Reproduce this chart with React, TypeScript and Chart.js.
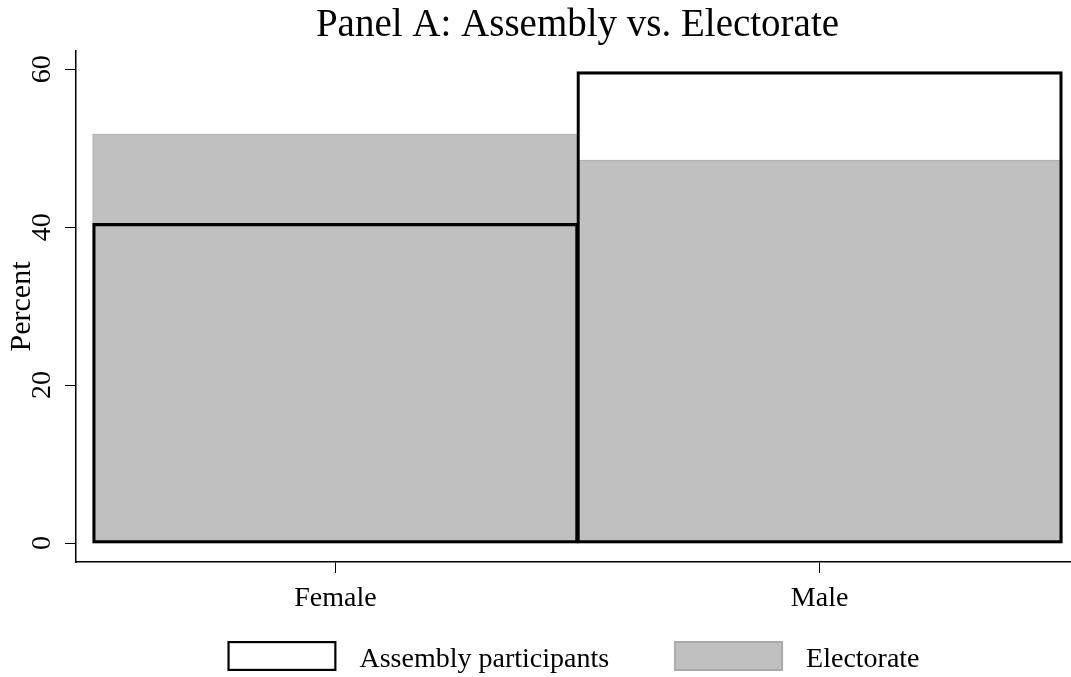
import React, { useEffect, useRef } from "react";
import { Chart, registerables } from "chart.js";

Chart.register(...registerables);

const categories = ["Female", "Male"];
const assemblyValues = [40.4, 59.6];
const electorateValues = [51.7, 48.4];
const seriesLabels = ["Assembly participants", "Electorate"];
const yTickValues = [0, 20, 40, 60];
const titleText = "Panel A: Assembly vs. Electorate";
const yAxisTitle = "Percent";

const FONT = "'Liberation Serif', 'Times New Roman', serif";

const titlePlugin = {
  id: "stataTitle",
  afterDraw(chart: any) {
    const ctx = chart.ctx;
    const xScale = chart.scales.x;
    const cx = xScale.getPixelForValue((categories.length - 1) / 2);
    ctx.save();
    ctx.font = `39px ${FONT}`;
    ctx.fillStyle = "#000";
    ctx.textAlign = "center";
    ctx.textBaseline = "alphabetic";
    ctx.fillText(titleText, cx, 36);
    ctx.restore();
  },
};

const legendPlugin = {
  id: "stataLegend",
  afterDraw(chart: any) {
    const ctx = chart.ctx;
    const area = chart.chartArea;
    ctx.save();
    ctx.font = `28px ${FONT}`;
    const boxW = 109;
    const boxH = 30;
    const gap = 23;
    const itemGap = 65;
    const items = chart.data.datasets.map((ds: any) => ({
      label: ds.label,
      fill: ds.backgroundColor,
      stroke: ds.borderColor,
      lw: ds.borderWidth + ds.inflateAmount,
    }));
    const widths = items.map((it: any) => boxW + gap + ctx.measureText(it.label).width);
    const total = widths.reduce((a: number, b: number) => a + b, 0) + itemGap * (items.length - 1);
    let x = (area.left + area.right) / 2 - total / 2;
    const yTop = chart.height - 36;
    items.forEach((it: any, i: number) => {
      ctx.fillStyle = it.fill;
      ctx.fillRect(x, yTop, boxW, boxH);
      ctx.strokeStyle = it.stroke;
      ctx.lineWidth = it.lw;
      ctx.strokeRect(x + it.lw / 2, yTop + it.lw / 2, boxW - it.lw, boxH - it.lw);
      ctx.fillStyle = "#000";
      ctx.textBaseline = "alphabetic";
      ctx.textAlign = "left";
      ctx.fillText(it.label, x + boxW + gap, yTop + 26);
      x += widths[i] + itemGap;
    });
    ctx.restore();
  },
};

export default function App() {
  const canvasRef = useRef<HTMLCanvasElement | null>(null);

  useEffect(() => {
    if (!canvasRef.current) return;
    Chart.defaults.font.family = FONT;
    Chart.defaults.color = "#000";
    const chart = new Chart(canvasRef.current, {
      type: "bar",
      data: {
        datasets: [
          {
            label: seriesLabels[0],
            data: assemblyValues.map((v, i) => ({ x: i, y: v })),
            backgroundColor: "rgba(0,0,0,0)",
            borderColor: "#000000",
            borderWidth: 1.2,
            borderSkipped: false,
            inflateAmount: 1,
            grouped: false,
            barPercentage: 1,
            categoryPercentage: 1,
          },
          {
            label: seriesLabels[1],
            data: electorateValues.map((v, i) => ({ x: i, y: v })),
            backgroundColor: "#c0c0c0",
            borderColor: "#ababab",
            borderWidth: 1,
            borderSkipped: false,
            inflateAmount: 1,
            grouped: false,
            barPercentage: 1,
            categoryPercentage: 1,
          },
        ],
      },
      options: {
        animation: false,
        responsive: true,
        maintainAspectRatio: false,
        layout: { padding: { top: 51, left: 0, right: 0, bottom: 57 } },
        plugins: {
          legend: { display: false },
          tooltip: { enabled: false },
          title: { display: false },
        },
        scales: {
          x: {
            type: "linear",
            min: -0.5357,
            max: 1.5192,
            offset: false,
            afterBuildTicks: (scale: any) => {
              scale.ticks = categories.map((_, i) => ({ value: i }));
            },
            afterFit: (scale: any) => {
              scale.height = 58;
            },
            ticks: {
              font: { family: FONT, size: 28 },
              color: "#000",
              padding: 9,
              maxRotation: 0,
              minRotation: 0,
              callback: (v: any) => categories[v as number] ?? "",
            },
            grid: {
              display: true,
              offset: false,
              drawOnChartArea: false,
              drawTicks: true,
              tickLength: 11,
              color: "#000",
              lineWidth: 1,
            },
            border: { display: true, color: "#000", width: 1.5 },
          },
          y: {
            type: "linear",
            min: -2.4,
            max: 62.3,
            afterBuildTicks: (scale: any) => {
              scale.ticks = yTickValues.map((v) => ({ value: v }));
            },
            afterFit: (scale: any) => {
              scale.width = 76;
            },
            ticks: {
              font: { family: FONT, size: 28 },
              color: "#000",
              padding: 8,
              minRotation: 90,
              maxRotation: 90,
              crossAlign: "center",
              callback: (v: any) => String(v),
            },
            title: {
              display: true,
              text: yAxisTitle,
              color: "#000",
              font: { family: FONT, size: 30, lineHeight: 1.2 },
              padding: { top: 4, bottom: 0 },
            },
            grid: {
              display: true,
              drawOnChartArea: false,
              drawTicks: true,
              tickLength: 11,
              color: "#000",
              lineWidth: 1,
            },
            border: { display: true, color: "#000", width: 1.5 },
          },
        },
      },
      plugins: [titlePlugin, legendPlugin],
    } as any);
    return () => chart.destroy();
  }, []);

  return (
    <div style={{ position: "fixed", left: 0, top: 0, width: 1071, height: 677, background: "#fff" }}>
      <canvas ref={canvasRef} style={{ width: 1071, height: 677 }} />
    </div>
  );
}
